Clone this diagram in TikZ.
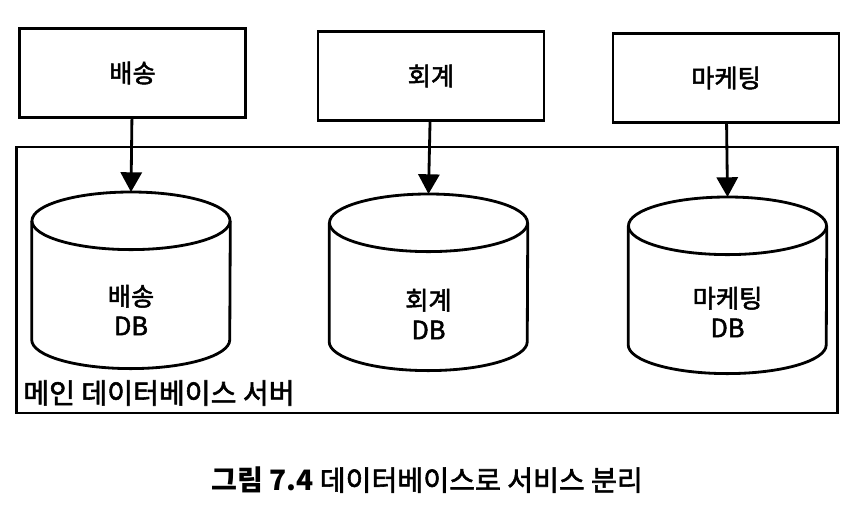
\documentclass[tikz,border=0pt]{standalone}
\usepackage{fontspec}
\setmainfont{Noto Sans CJK KR}[UprightFeatures={FakeBold=2}, BoldFeatures={FakeBold=0}]
\usetikzlibrary{calc,arrows.meta}

\def\drumrx{2.475cm}
\def\drumry{0.72cm}
\def\drum(#1){\draw[line width=2pt] ($(#1.north west)+(0,-\drumry)$) -- ($(#1.south west)+(0,\drumry)$)
	arc[start angle=180, end angle=360, x radius=\drumrx, y radius=\drumry] -- ($(#1.north east)+(0,-\drumry)$);
	\draw[line width=2pt] ($(#1.north)+(0,-\drumry)$) ellipse[x radius=\drumrx, y radius=\drumry];}

\tikzset{
  svcbox/.style={draw, line width=2pt, minimum width=5.65cm, minimum height=2.22cm,
    font=\fontsize{18}{22}\selectfont},
  dbcyl/.style={minimum width=4.95cm, minimum height=4.4cm, inner sep=0pt, anchor=north},
  dblbl/.style={align=center, font=\fontsize{18}{21}\selectfont},
  feed/.style={line width=2pt, -{Triangle[width=15pt,length=14pt]}},
}

\begin{document}
\begin{tikzpicture}[x=0.025cm, y=-0.025cm]
	\useasboundingbox (0, 0) rectangle (858, 510);
	
	% server frame
	\node[draw, line width=2pt, minimum width=20.5cm, minimum height=6.65cm] (server) at (427, 280) {};
	\node[anchor=west, inner sep=0pt, font=\fontsize{20}{24}\selectfont] (serverlbl) at (23, 393) {메인 데이터베이스 서버};
	
	% services
	\node[svcbox] (ship) at (132.5, 73) {배송};
	\node[svcbox] (acct) at (431, 76) {회계};
	\node[svcbox] (mkt) at (726, 78) {마케팅};
	
	% databases
	\node[dbcyl] (shipdb) at (131, 192) {};
	\node[dbcyl] (acctdb) at (428.5, 194) {};
	\node[dbcyl] (mktdb) at (727.5, 197) {};
	\drum(shipdb)
	\drum(acctdb)
	\drum(mktdb)
	\node[dblbl] (shiplbl) at (131, 310) {배송\\DB};
	\node[dblbl] (acctlbl) at (428.5, 314) {회계\\DB};
	\node[dblbl] (mktlbl) at (727.5, 312) {마케팅\\DB};
	
	\draw[feed] (ship) -- (shipdb.north);
	\draw[feed] (acct) -- (acctdb.north);
	\draw[feed] (mkt) -- (mktdb.north);
	
	\node[font=\fontsize{20}{24}\selectfont] (caption) at (427, 480) {\textbf{그림 7.4} 데이터베이스로 서비스 분리};
\end{tikzpicture}
\end{document}
